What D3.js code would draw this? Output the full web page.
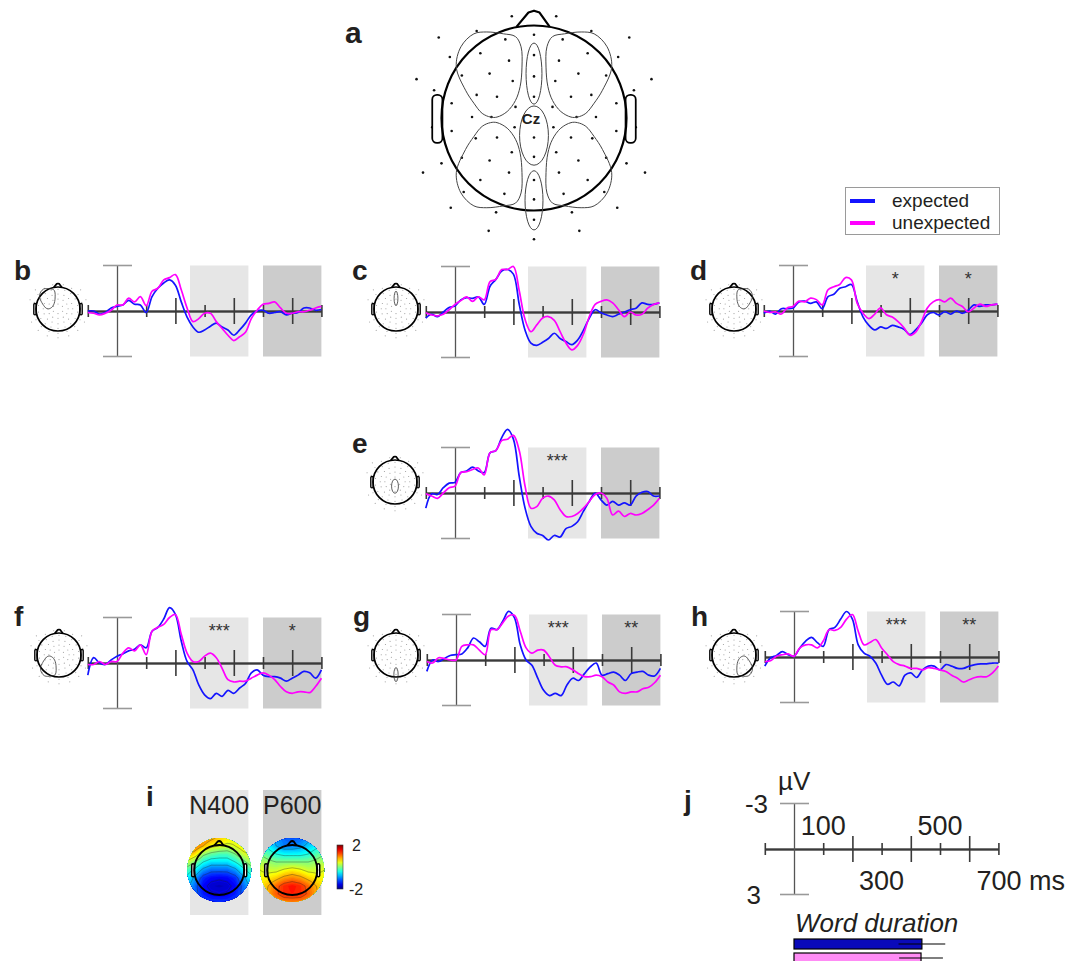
<!DOCTYPE html>
<html>
<head>
<meta charset="utf-8">
<script src="https://cdn.jsdelivr.net/npm/d3@7"></script>
<style>
  body { margin: 0; background: #fff; }
  svg { display: block; font-family: "Liberation Sans", Arial, sans-serif; }
</style>
</head>
<body>
<script>
// sample times (ms) of the averaged waveforms
var times = [-100, -80, -60, -40, -20, 0, 20, 40, 60, 80, 100, 120, 140, 160, 180, 200,
  220, 240, 260, 280, 300, 320, 340, 360, 380, 400, 420, 440, 460, 480, 500,
  520, 540, 560, 580, 600, 620, 640, 660, 680, 700];

// amplitudes in microvolts (negative plotted up)
var bExpected = [0.0, 0, 0.2, 0.1, -0.2, -0.3, -0.4, -0.7, -0.45, -0.4, 0.1, -0.95, -1.5, -1.85, -2.05, -1.7, -0.6, 0.4, 1.05, 1.4, 1.25, 1.0, 0.8, 1.05, 1.25, 1.6, 1.25, 0.8, 0.25, 0, -0.05, 0.15, 0.1, 0.05, 0.25, 0.15, 0.1, -0.2, -0.2, -0.05, -0.1];
var bUnexpected = [0.1, 0.15, 0.25, 0.15, -0.05, -0.4, -0.4, -0.85, -0.6, -0.95, -0.35, -1.3, -1.5, -2.05, -2.2, -2.4, -1.4, -0.2, 0.7, 0.5, 0.15, 0.15, 0.7, 1.15, 1.6, 1.95, 1.7, 1.4, 0.5, -0.05, -0.45, -0.5, -0.6, -0.2, 0.15, 0.15, 0.05, 0.05, -0.05, -0.2, -0.3];
var cExpected = [0.4, 0.15, 0.3, 0, -0.3, -0.4, -0.8, -0.95, -0.9, -1.0, -0.5, -1.7, -2.15, -2.7, -2.8, -2.5, -0.5, 1.2, 2.05, 2.2, 2.0, 1.75, 1.4, 1.75, 1.95, 2.15, 1.85, 1.2, 0.4, -0.15, 0.05, 0.2, 0.3, 0.15, 0, -0.15, -0.25, -0.6, -0.5, -0.5, -0.6];
var cUnexpected = [0.05, 0.2, 0.25, 0.15, -0.15, -0.5, -0.75, -1.0, -0.7, -1.0, -0.8, -2.0, -2.15, -2.8, -2.8, -3.0, -1.4, 0.5, 1.3, 0.85, 0.4, 0.3, 0.55, 1.3, 2.05, 2.5, 2.2, 1.45, 0.3, -0.5, -0.7, -0.8, -0.6, -0.15, 0.3, 0, 0.2, 0.15, -0.25, -0.5, -0.6];
var dExpected = [0.15, 0, 0.2, -0.15, -0.15, -0.2, -0.6, -0.65, -0.5, -0.6, -0.15, -0.95, -1.1, -1.5, -1.6, -1.75, -0.6, 0.4, 0.95, 1.25, 1.05, 1.15, 0.95, 1.05, 1.2, 1.55, 1.25, 0.8, 0.25, 0.1, 0.25, 0.05, 0.2, 0, 0.15, -0.05, -0.4, -0.3, -0.4, -0.4, -0.45];
var dUnexpected = [0, 0.1, 0.05, 0.2, -0.2, -0.3, -0.65, -0.6, -0.85, -0.75, -0.4, -1.4, -1.6, -1.75, -2.2, -2.05, -0.5, 0.15, 0.5, 0.2, -0.2, 0.25, 0.4, 0.7, 1.1, 1.6, 1.4, 0.7, -0.2, -0.6, -0.75, -0.6, -0.85, -0.5, -0.3, 0.05, -0.2, -0.45, -0.3, -0.4, -0.45];
var eExpected = [1.0, 0.05, 0.1, -0.35, -0.65, -0.7, -1.35, -1.45, -1.7, -1.45, -1.35, -2.65, -2.8, -3.65, -4.2, -3.55, -1.1, 1.0, 2.2, 2.65, 2.8, 3.1, 2.8, 2.9, 2.35, 2.2, 1.9, 1.2, 0.55, 0, 0.45, 0.8, 0.55, 0.8, 0.65, 0.8, 0.2, -0.05, -0.1, 0.2, 0.2];
var eUnexpected = [0.05, 0.2, 0.35, 0, -0.35, -0.45, -1.35, -1.4, -1.55, -1.65, -1.2, -2.65, -2.8, -3.45, -3.55, -3.8, -2.8, -0.45, 1.0, 0.9, 0.35, 0.2, 0.45, 1.1, 1.55, 1.55, 1.35, 1.0, 0.55, 0.1, 0, 0.35, 1.45, 1.2, 1.55, 1.35, 1.45, 1.35, 1.1, 0.8, 0.35];
var fExpected = [0.8, -0.35, 0, 0.1, -0.2, -0.45, -0.6, -0.8, -0.9, -1.2, -1.0, -2.1, -2.35, -2.9, -3.65, -3.2, -1.45, -0.1, 0.45, 1.45, 2.1, 2.35, 2.0, 2.2, 1.8, 2.0, 1.65, 1.35, 0.65, 0.45, 0.8, 0.9, 0.9, 1.0, 1.2, 1.0, 0.8, 0.55, 0.65, 1.0, 0.45];
var fUnexpected = [0.1, 0.1, -0.1, 0.1, -0.1, -0.1, -0.65, -1.0, -0.8, -1.2, -0.55, -2.1, -2.35, -2.55, -3.0, -3.2, -1.9, -0.65, -0.1, -0.1, -0.45, -0.65, -0.35, 0.35, 1.1, 1.25, 1.2, 1.2, 1.0, 0.8, 0.65, 0.8, 1.1, 1.55, 1.9, 2.0, 1.9, 1.9, 1.95, 1.55, 1.0];
var gExpected = [0.75, 0, 0.1, -0.1, -0.3, -0.35, -0.4, -0.8, -1.45, -1.2, -0.9, -2.1, -2.0, -2.55, -3.2, -2.8, -1.0, 0, 0.35, 1.2, 2.0, 2.35, 2.2, 2.35, 1.65, 1.2, 1.35, 0.9, 0.45, 0.2, 1.0, 0.9, 0.8, 1.0, 1.35, 0.9, 0.8, 0.75, 1.0, 1.05, 0.55];
var gUnexpected = [0.1, 0.2, -0.15, -0.1, 0, 0, -0.9, -1.0, -1.0, -0.65, -0.35, -2.0, -2.0, -2.45, -2.9, -2.95, -1.9, -0.8, -0.45, -0.65, -0.65, -0.2, 0.35, 0.45, 0.45, 0.65, 0.9, 1.1, 1.1, 1.0, 1.1, 1.45, 1.65, 2.1, 2.2, 2.1, 2.1, 1.9, 1.8, 1.5, 1.0];
var hExpected = [0.6, 0.05, -0.1, -0.35, -0.15, -0.05, -0.6, -1.05, -1.3, -0.95, -0.7, -1.8, -1.95, -2.5, -3.0, -2.5, -0.8, -0.25, -0.05, 0.4, 1.2, 1.8, 1.65, 1.9, 1.2, 1.05, 1.35, 0.85, 0.6, 0.6, 0.85, 0.5, 0.6, 0.75, 0.75, 0.6, 0.5, 0.45, 0.45, 0.4, 0.4];
var hUnexpected = [0.3, 0.25, -0.05, -0.15, -0.2, -0.05, -0.6, -0.8, -0.8, -0.6, -1.05, -1.8, -1.75, -1.95, -2.5, -2.8, -1.7, -0.8, -0.95, -1.15, -0.6, -0.15, 0.3, 0.5, 0.6, 0.75, 0.75, 0.85, 0.7, 0.75, 0.85, 0.95, 1.2, 1.4, 1.65, 1.5, 1.35, 1.3, 1.3, 1.05, 0.6];

// analysis windows (ms) and their significance labels
var windows = [[250, 450], [500, 700]];
var windowNames = ["N400", "P600"];
var stars = {
  b: ["", ""], c: ["", ""], d: ["*", "*"], e: ["***", ""],
  f: ["***", "*"], g: ["***", "**"], h: ["***", "**"]
};

var smallTicks = [-100, 100, 300, 500, 700];
var longTicks = [200, 400, 600];
var scaleLabelsTop = [100, 500];
var scaleLabelsBottom = [300, 700];
var legendNames = ["expected", "unexpected"];

// word duration, ms (mean, sd)
var durationMean = [438, 435];
var durationSd = [80, 75];

// topographies (µV) on a 9 x 9 grid, rows top (front) to bottom (back)
var n400Grid = [
  [1.2, 1.2, 1.1, 0.9, 0.7, 0.6, 0.5, 0.5, 0.5],
  [1.3, 1.1, 0.8, 0.5, 0.4, 0.3, 0.4, 0.6, 0.6],
  [0.9, 0.6, 0.1, -0.1, -0.2, -0.2, 0.0, 0.3, 0.5],
  [0.3, 0.0, -0.4, -0.6, -0.6, -0.6, -0.4, -0.1, 0.2],
  [-0.2, -0.5, -0.9, -1.1, -1.1, -1.1, -0.9, -0.5, -0.2],
  [-0.5, -0.9, -1.35, -1.5, -1.55, -1.5, -1.35, -0.9, -0.5],
  [-0.7, -1.1, -1.5, -1.7, -1.75, -1.7, -1.5, -1.1, -0.7],
  [-0.8, -1.1, -1.4, -1.55, -1.6, -1.55, -1.4, -1.1, -0.8],
  [-0.8, -1.0, -1.2, -1.3, -1.3, -1.3, -1.2, -1.0, -0.8]
];
var p600Grid = [
  [-0.3, -0.6, -0.9, -1.1, -1.2, -1.1, -0.9, -0.6, -0.3],
  [-0.2, -0.5, -0.8, -1.0, -1.0, -0.9, -0.7, -0.5, -0.2],
  [0.0, -0.2, -0.4, -0.5, -0.5, -0.5, -0.4, -0.2, 0.0],
  [0.2, 0.1, 0.0, 0.0, 0.0, 0.0, 0.0, 0.1, 0.2],
  [0.4, 0.3, 0.3, 0.45, 0.55, 0.45, 0.3, 0.3, 0.4],
  [0.5, 0.55, 0.7, 0.9, 1.0, 0.9, 0.7, 0.55, 0.5],
  [0.6, 0.8, 1.1, 1.35, 1.45, 1.35, 1.1, 0.8, 0.6],
  [0.6, 0.85, 1.15, 1.35, 1.4, 1.35, 1.15, 0.85, 0.6],
  [0.5, 0.7, 0.9, 1.0, 1.0, 1.0, 0.9, 0.7, 0.5]
];

// electrode layout on a unit head (left half and midline; right half mirrored)
var leftElectrodes = [[-0.24, -1.10], [-0.62, -0.94], [-1.03, -0.87], [-0.31, -0.85], [-0.91, -0.66],
  [-0.58, -0.70], [-0.27, -0.62], [-1.27, -0.42], [-0.78, -0.46], [-0.48, -0.48], [-0.23, -0.40],
  [-1.08, -0.30], [-0.62, -0.25], [-0.40, -0.23], [-0.89, -0.16], [-0.20, -0.12], [-0.67, -0.01],
  [-0.46, -0.01], [-1.10, 0.10], [-0.21, 0.10], [-0.89, 0.14], [-0.63, 0.22], [-0.40, 0.21],
  [-0.24, 0.37], [-1.00, 0.49], [-0.78, 0.43], [-0.48, 0.46], [-1.20, 0.59], [-0.58, 0.67],
  [-0.27, 0.59], [-0.76, 0.80], [-0.32, 0.82], [-0.90, 0.97], [-0.41, 1.02], [-0.49, 1.22]];
var midElectrodes = [[0, -0.90], [0, -0.68], [0, -0.45], [0, -0.23], [0, 0.21], [0, 0.42],
  [0, 0.67], [0, 0.88], [0, 1.10], [0, 1.31]];

// regions of interest outline (upper-left one; others mirrored)
var roiUpperLeft = [[-0.84, -0.55], [-0.79, -0.77], [-0.65, -0.91], [-0.51, -0.93], [-0.33, -0.91],
  [-0.20, -0.88], [-0.14, -0.77], [-0.13, -0.55], [-0.15, -0.34], [-0.20, -0.19], [-0.29, -0.07],
  [-0.40, -0.01], [-0.47, -0.01], [-0.56, -0.05], [-0.65, -0.16], [-0.74, -0.30]];
var roiEllipses = {
  FM: { cy: -0.48, rx: 0.086, ry: 0.33 },
  CM: { cy: 0.19, rx: 0.156, ry: 0.32 },
  PM: { cy: 0.89, rx: 0.097, ry: 0.32 }
};

var electrodes = leftElectrodes.concat(leftElectrodes.map(function (d) { return [-d[0], d[1]]; }), midElectrodes);
var roiBlobs = {
  UL: roiUpperLeft,
  UR: roiUpperLeft.map(function (d) { return [-d[0], d[1]]; }),
  LL: roiUpperLeft.map(function (d) { return [d[0], 0.04 - d[1]]; }),
  LR: roiUpperLeft.map(function (d) { return [-d[0], 0.04 - d[1]]; })
};

// layout of the waveform panels
var panels = [
  { id: "b", exp: bExpected, unexp: bUnexpected, roi: "UL", zeroX: 117, axisY: 311, headX: 58, headY: 309 },
  { id: "c", exp: cExpected, unexp: cUnexpected, roi: "FM", zeroX: 455, axisY: 312, headX: 396, headY: 309 },
  { id: "d", exp: dExpected, unexp: dUnexpected, roi: "UR", zeroX: 793, axisY: 311, headX: 734, headY: 309 },
  { id: "e", exp: eExpected, unexp: eUnexpected, roi: "CM", zeroX: 455, axisY: 493, headX: 395, headY: 482 },
  { id: "f", exp: fExpected, unexp: fUnexpected, roi: "LL", zeroX: 117, axisY: 663, headX: 59, headY: 655 },
  { id: "g", exp: gExpected, unexp: gUnexpected, roi: "PM", zeroX: 456, axisY: 660, headX: 396, headY: 655 },
  { id: "h", exp: hExpected, unexp: hUnexpected, roi: "LR", zeroX: 794, axisY: 657, headX: 734, headY: 655 }
];

var blue = "#1414ff", magenta = "#ff00ff";
var winFill = ["#e6e6e6", "#cccccc"];
var textColor = "#231f20";
var pxPer100 = 29.2, halfHeight = 45.5;

var svg = d3.select("body").append("svg")
  .attr("width", 1083)
  .attr("height", 961);
var defs = svg.append("defs");

function timeScale(zeroX) {
  return d3.scaleLinear().domain([-100, 700])
    .range([zeroX - pxPer100, zeroX + 7 * pxPer100]);
}
function ampScale(axisY) {
  return d3.scaleLinear().domain([-3, 3]).range([axisY - halfHeight, axisY + halfHeight]);
}

function jet(v) {
  var t = Math.max(0, Math.min(1, (v + 2) / 4));
  var c = function (a) { return Math.round(255 * Math.max(0, Math.min(1, a))); };
  return d3.rgb(c(1.5 - Math.abs(4 * t - 3)), c(1.5 - Math.abs(4 * t - 2)), c(1.5 - Math.abs(4 * t - 1)));
}

function drawAxes(g, x, y, zeroX) {
  var axisY = y(0);
  var hor = g.append("g").attr("transform", "translate(0," + axisY + ")");
  hor.append("g").call(d3.axisBottom(x).tickValues(smallTicks).tickSize(6).tickSizeOuter(0).tickFormat(""));
  hor.append("g").call(d3.axisTop(x).tickValues(smallTicks).tickSize(6).tickSizeOuter(0).tickFormat(""));
  hor.append("g").call(d3.axisBottom(x).tickValues(longTicks).tickSize(13).tickSizeOuter(0).tickFormat(""));
  hor.append("g").call(d3.axisTop(x).tickValues(longTicks).tickSize(13).tickSizeOuter(0).tickFormat(""));
  hor.selectAll(".domain").attr("stroke", "#3a3a3a").attr("stroke-width", 1.3);
  hor.selectAll(".tick line").attr("stroke", "#3a3a3a").attr("stroke-width", 1.6);

  var ver = g.append("g").attr("transform", "translate(" + zeroX + ",0)")
    .call(d3.axisLeft(y).tickValues([]).tickSizeOuter(0));
  ver.select(".domain").attr("stroke", "#555").attr("stroke-width", 1.3);
  [-3, 3].forEach(function (v) {
    g.append("line")
      .attr("x1", zeroX - 14).attr("x2", zeroX + 15)
      .attr("y1", y(v)).attr("y2", y(v))
      .attr("stroke", "#999").attr("stroke-width", 1.6);
  });
}

function drawHead(g, cx, cy, r, opt) {
  var hx = d3.scaleLinear().domain([-1, 1]).range([cx - r, cx + r]);
  var hy = d3.scaleLinear().domain([-1, 1]).range([cy - r, cy + r]);

  if (opt.dots) {
    g.selectAll(null).data(electrodes).enter().append("circle")
      .attr("cx", function (d) { return hx(d[0]); })
      .attr("cy", function (d) { return hy(d[1]); })
      .attr("r", opt.dotR)
      .attr("fill", opt.dotColor);
  }

  var outline = d3.line().x(function (d) { return hx(d[0]); }).y(function (d) { return hy(d[1]); });
  g.append("path")
    .attr("d", outline([[-0.19, -0.985], [-0.06, -1.14], [0, -1.16], [0.06, -1.14], [0.17, -0.985]]))
    .attr("fill", "none").attr("stroke", "#000").attr("stroke-width", opt.sw).attr("stroke-linejoin", "round");
  [-1, 1].forEach(function (s) {
    var x0 = s < 0 ? hx(-1.1) : hx(0.99);
    g.append("rect")
      .attr("x", x0).attr("width", hx(0.11) - hx(0))
      .attr("y", hy(-0.25)).attr("height", hy(0.27) - hy(-0.25))
      .attr("rx", r * 0.05)
      .attr("fill", "#fff").attr("stroke", "#000").attr("stroke-width", opt.sw * 0.8);
  });
  g.append("circle").attr("cx", cx).attr("cy", cy).attr("r", r)
    .attr("fill", opt.fill || "none").attr("stroke", "#000").attr("stroke-width", opt.sw);

  (opt.rois || []).forEach(function (k) {
    if (roiBlobs[k]) {
      g.append("path")
        .attr("d", outline.curve(d3.curveCatmullRomClosed.alpha(0.5))(roiBlobs[k]))
        .attr("fill", "none").attr("stroke", opt.roiColor).attr("stroke-width", opt.roiW);
    } else {
      var e = roiEllipses[k];
      g.append("ellipse")
        .attr("cx", hx(0)).attr("cy", hy(e.cy))
        .attr("rx", hx(e.rx) - hx(0)).attr("ry", hy(e.ry) - hy(0))
        .attr("fill", "none").attr("stroke", opt.roiColor).attr("stroke-width", opt.roiW);
    }
  });
}

function panelLabel(txt, x, y, size) {
  svg.append("text").attr("x", x).attr("y", y)
    .attr("font-size", size || 28).attr("font-weight", "bold").attr("fill", textColor)
    .text(txt);
}

// ---------- panel a ----------
var headA = svg.append("g");
drawHead(headA, 534, 118, 92.5, {
  dots: true, dotR: 1.3, dotColor: "#111", sw: 2.2,
  rois: ["UL", "UR", "LL", "LR", "FM", "CM", "PM"], roiColor: "#444", roiW: 1
});
headA.append("text").attr("x", 531).attr("y", 124)
  .attr("text-anchor", "middle").attr("font-size", 15).attr("font-weight", "bold")
  .attr("fill", textColor).text("Cz");
panelLabel("a", 345, 43, 30);

// legend
var legend = svg.append("g");
legend.append("rect").attr("x", 845.5).attr("y", 187.5).attr("width", 154).attr("height", 47)
  .attr("fill", "#fff").attr("stroke", "#9a9a9a").attr("stroke-width", 1);
legendNames.forEach(function (name, i) {
  var yy = 201 + i * 22;
  legend.append("line").attr("x1", 850).attr("x2", 875).attr("y1", yy).attr("y2", yy)
    .attr("stroke", i === 0 ? blue : magenta).attr("stroke-width", 4);
  legend.append("text").attr("x", 892).attr("y", yy + 6)
    .attr("font-size", 19).attr("fill", textColor).text(name);
});

// ---------- waveform panels ----------
panels.forEach(function (p) {
  var g = svg.append("g");
  var x = timeScale(p.zeroX);
  var y = ampScale(p.axisY);

  windows.forEach(function (w, i) {
    g.append("rect")
      .attr("x", x(w[0])).attr("width", x(w[1]) - x(w[0]))
      .attr("y", y(-3)).attr("height", y(3) - y(-3))
      .attr("fill", winFill[i]);
  });

  drawAxes(g, x, y, p.zeroX);

  var line = d3.line()
    .x(function (d, i) { return x(times[i]); })
    .y(function (d) { return y(d); })
    .curve(d3.curveCatmullRom.alpha(0.5));
  g.append("path").attr("d", line(p.exp))
    .attr("fill", "none").attr("stroke", blue).attr("stroke-width", 1.7);
  g.append("path").attr("d", line(p.unexp))
    .attr("fill", "none").attr("stroke", magenta).attr("stroke-width", 1.7);

  stars[p.id].forEach(function (s, i) {
    g.append("text")
      .attr("x", x((windows[i][0] + windows[i][1]) / 2))
      .attr("y", y(-3) + 19)
      .attr("text-anchor", "middle").attr("font-size", 18).attr("fill", "#333")
      .text(s);
  });

  drawHead(g, p.headX, p.headY, 22, {
    dots: true, dotR: 0.55, dotColor: "#9a9a9a", sw: 1.7,
    rois: [p.roi], roiColor: "#333", roiW: 0.8
  });
  panelLabel(p.id, p.zeroX - 103, p.headY - 29);
});

// ---------- panel i: topographies ----------
function drawTopo(g, grid, cx, cy, id) {
  var R = 32, up = 6;
  var n = grid.length, m = (n - 1) * up + 1;
  var vals = [];
  for (var j = 0; j < m; j++) {
    for (var i = 0; i < m; i++) {
      var gx = i / up, gy = j / up;
      var i0 = Math.min(Math.floor(gx), n - 2), j0 = Math.min(Math.floor(gy), n - 2);
      var fx = gx - i0, fy = gy - j0;
      vals.push(grid[j0][i0] * (1 - fx) * (1 - fy) + grid[j0][i0 + 1] * fx * (1 - fy) +
        grid[j0 + 1][i0] * (1 - fx) * fy + grid[j0 + 1][i0 + 1] * fx * fy);
    }
  }
  var px = d3.scaleLinear().domain([0, m - 1]).range([cx - R, cx + R]);
  var py = d3.scaleLinear().domain([0, m - 1]).range([cy - R, cy + R]);
  var path = d3.geoPath(d3.geoTransform({
    point: function (a, b) { this.stream.point(px(a - 0.5), py(b - 0.5)); }
  }));
  defs.append("clipPath").attr("id", id)
    .append("circle").attr("cx", cx).attr("cy", cy).attr("r", R);
  var gg = g.append("g").attr("clip-path", "url(#" + id + ")");
  d3.contours().size([m, m]).thresholds(d3.range(-3, 3, 0.08))(vals).forEach(function (c) {
    gg.append("path").attr("d", path(c)).attr("fill", jet(c.value + 0.04));
  });
  d3.contours().size([m, m]).thresholds(d3.range(-2.0, 2.01, 0.4))(vals).forEach(function (c) {
    gg.append("path").attr("d", path(c)).attr("fill", "none")
      .attr("stroke", "#222").attr("stroke-opacity", 0.5).attr("stroke-width", 0.7);
  });
  drawHead(g, cx, cy, 25, { dots: false, sw: 1.9, rois: [] });
}

var xi = timeScale(117);
var gi = svg.append("g");
windows.forEach(function (w, i) {
  gi.append("rect")
    .attr("x", xi(w[0])).attr("width", xi(w[1]) - xi(w[0]))
    .attr("y", 790).attr("height", 125)
    .attr("fill", winFill[i]);
  gi.append("text")
    .attr("x", xi((w[0] + w[1]) / 2)).attr("y", 814)
    .attr("text-anchor", "middle").attr("font-size", 25).attr("fill", textColor)
    .text(windowNames[i]);
});
drawTopo(gi, n400Grid, xi(350), 870, "clipN400");
drawTopo(gi, p600Grid, xi(600), 870, "clipP600");

// colour bar
var cb = d3.scaleLinear().domain([-2, 2]).range([889, 845]);
var grad = defs.append("linearGradient").attr("id", "jetGrad")
  .attr("x1", 0).attr("y1", 1).attr("x2", 0).attr("y2", 0);
d3.range(0, 1.001, 0.1).forEach(function (t) {
  grad.append("stop").attr("offset", t).attr("stop-color", jet(-2 + 4 * t));
});
gi.append("rect").attr("x", 337).attr("y", cb(2)).attr("width", 6).attr("height", cb(-2) - cb(2))
  .attr("fill", "url(#jetGrad)").attr("stroke", "#333").attr("stroke-width", 0.6);
[2, -2].forEach(function (v) {
  gi.append("text").attr("x", v > 0 ? 352 : 349).attr("y", cb(v) + 6)
    .attr("font-size", 16).attr("fill", textColor).text(v);
});
panelLabel("i", 146, 806);

// ---------- panel j: scale ----------
var gj = svg.append("g");
var xj = timeScale(794);
var yj = ampScale(849);
drawAxes(gj, xj, yj, 794);
gj.append("text").attr("x", 768).attr("y", yj(-3) + 9).attr("text-anchor", "end")
  .attr("font-size", 26).attr("fill", textColor).text("-3");
gj.append("text").attr("x", 761).attr("y", yj(3) + 9).attr("text-anchor", "end")
  .attr("font-size", 26).attr("fill", textColor).text("3");
gj.append("text").attr("x", 778).attr("y", 790)
  .attr("font-size", 26).attr("fill", textColor).text("µV");
scaleLabelsTop.forEach(function (t) {
  gj.append("text").attr("x", xj(t)).attr("y", yj(0) - 14).attr("text-anchor", "middle")
    .attr("font-size", 27).attr("fill", textColor).text(t);
});
scaleLabelsBottom.forEach(function (t) {
  var last = t === 700;
  gj.append("text").attr("x", last ? xj(t) - 22 : xj(t)).attr("y", yj(0) + 41)
    .attr("text-anchor", last ? "start" : "middle")
    .attr("font-size", 27).attr("fill", textColor).text(last ? t + " ms" : t);
});
gj.append("text").attr("x", 795).attr("y", 932)
  .attr("font-size", 26).attr("font-style", "italic").attr("fill", textColor)
  .text("Word duration");

var barFill = ["#0a0ab9", "#ff8cf5"];
durationMean.forEach(function (m, i) {
  var top = 939 + i * 14;
  gj.append("rect").attr("x", xj(0)).attr("y", top)
    .attr("width", xj(m) - xj(0)).attr("height", 10)
    .attr("fill", barFill[i]).attr("stroke", "#000").attr("stroke-width", 1.2);
  gj.append("line")
    .attr("x1", xj(m - durationSd[i])).attr("x2", xj(m + durationSd[i]))
    .attr("y1", top + 5).attr("y2", top + 5)
    .attr("stroke", "#000").attr("stroke-width", 1.2);
});
panelLabel("j", 684, 810);
</script>
</body>
</html>
